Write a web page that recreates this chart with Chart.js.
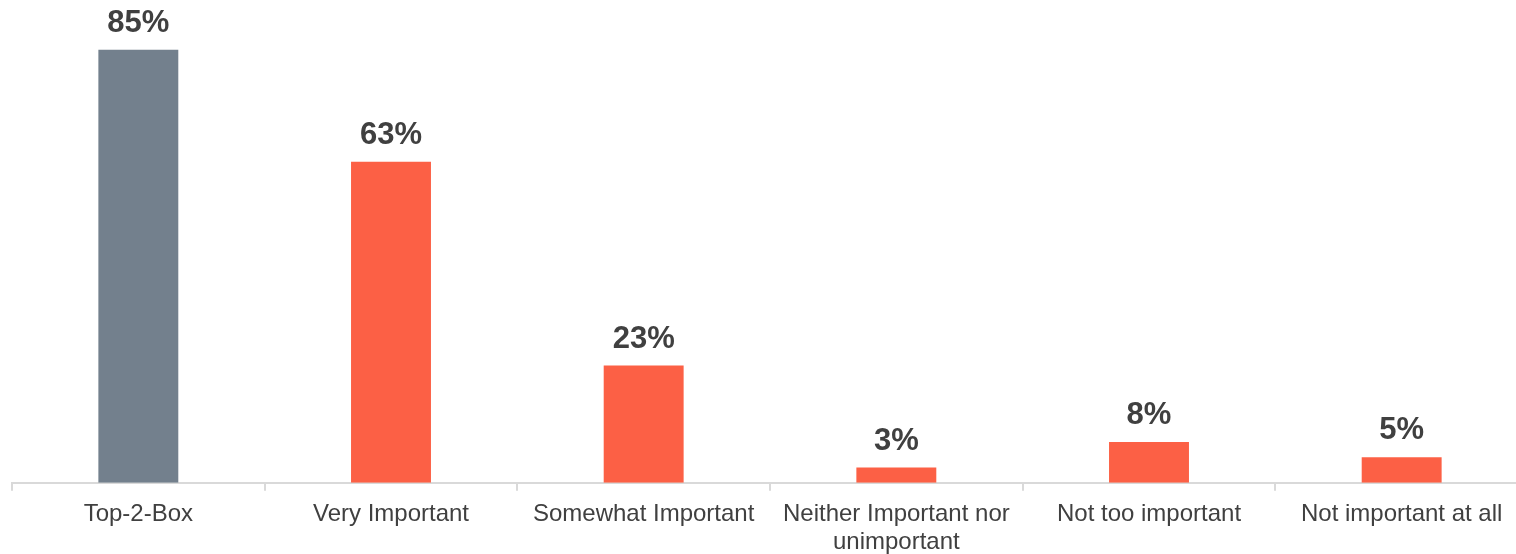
<!DOCTYPE html>
<html>
<head>
<meta charset="utf-8">
<script src="https://cdn.jsdelivr.net/npm/chart.js@4/dist/chart.umd.min.js"></script>
<style>
  html, body { margin: 0; padding: 0; background: #fff; overflow: hidden; }
  #chartBox { width: 1540px; height: 554px; position: relative; }
</style>
</head>
<body>
<div id="chartBox"><canvas id="importanceChart"></canvas></div>
<script>
const categories = [
  "Top-2-Box",
  "Very Important",
  "Somewhat Important",
  ["Neither Important nor", "unimportant"],
  "Not too important",
  "Not important at all"
];
const percentages = [85, 63, 23, 3, 8, 5];
const barColors = ["#73808D", "#FC6045", "#FC6045", "#FC6045", "#FC6045", "#FC6045"];

const CHART = document.getElementById("importanceChart");
Chart.defaults.font.family = "'Liberation Sans', Arial, sans-serif";
Chart.defaults.color = "#404040";

// draws the bold "NN%" above every bar
const valueLabels = {
  id: "valueLabels",
  afterDatasetsDraw(chart) {
    const ctx = chart.ctx;
    const meta = chart.getDatasetMeta(0);
    ctx.save();
    ctx.font = "bold 31px 'Liberation Sans', Arial, sans-serif";
    ctx.fillStyle = "#404040";
    ctx.textAlign = "center";
    ctx.textBaseline = "alphabetic";
    meta.data.forEach(function (bar, i) {
      ctx.fillText(percentages[i] + "%", bar.x, bar.y - 18);
    });
    ctx.restore();
  }
};

let importanceChart = new Chart(CHART, {
  type: "bar",
  data: {
    labels: categories,
    datasets: [
      {
        label: "Importance",
        data: percentages,
        backgroundColor: barColors,
        barPercentage: 0.95,
        categoryPercentage: 0.333
      }
    ]
  },
  options: {
    responsive: true,
    maintainAspectRatio: false,
    animation: false,
    layout: { padding: { left: 12, right: 12, top: 14, bottom: -12 } },
    plugins: {
      legend: { display: false },
      tooltip: { enabled: false }
    },
    scales: {
      x: {
        grid: {
          display: true,
          drawOnChartArea: false,
          offset: true,
          color: "#D9D9D9",
          lineWidth: 2,
          tickLength: 8
        },
        border: { display: true, color: "#D9D9D9", width: 2 },
        ticks: {
          font: { size: 24, lineHeight: 1.15 },
          color: "#404040",
          padding: 10,
          maxRotation: 0,
          autoSkip: false
        }
      },
      y: {
        display: false,
        min: 0,
        max: 92
      }
    }
  },
  plugins: [valueLabels]
});
</script>
</body>
</html>
